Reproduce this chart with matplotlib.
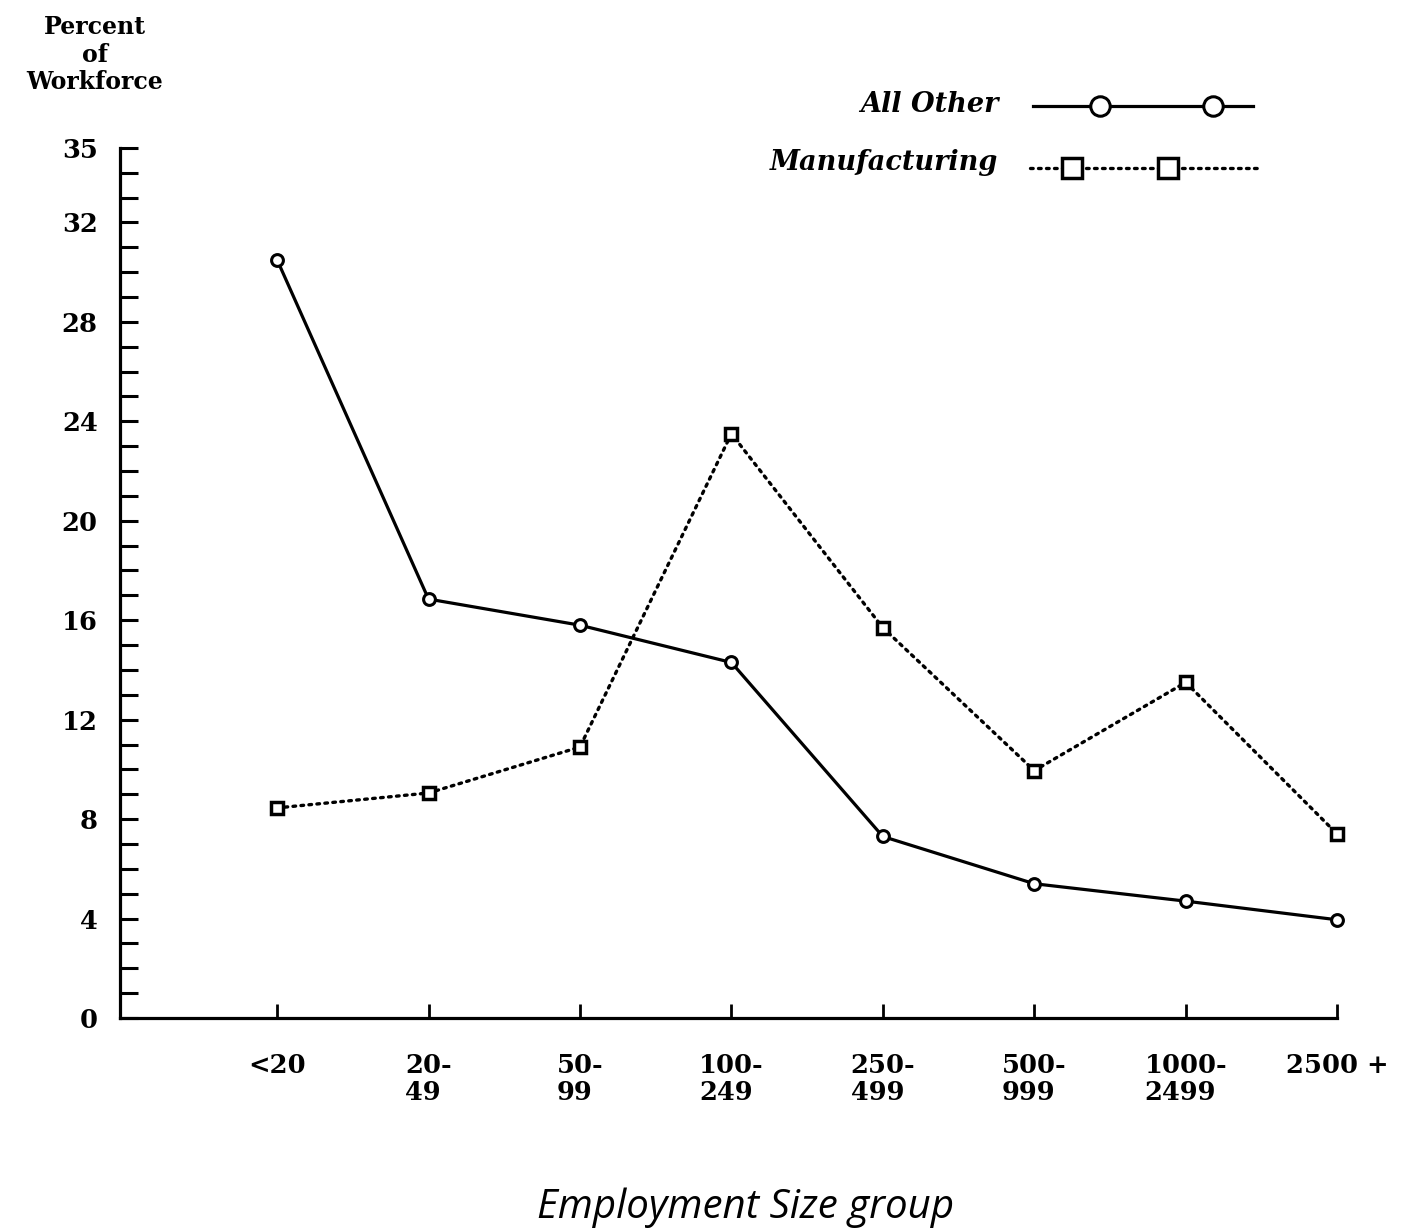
import numpy as np
import matplotlib
matplotlib.use("Agg")
import matplotlib.pyplot as plt
from matplotlib.lines import Line2D

# data
size_groups = ["<20", "20-\n49", "50-\n99", "100-\n249", "250-\n499",
               "500-\n999", "1000-\n2499", "2500 +"]
all_other = [30.5, 16.85, 15.8, 14.3, 7.3, 5.4, 4.7, 3.95]
manufacturing = [8.45, 9.05, 10.9, 23.5, 15.7, 9.95, 13.5, 7.4]
y_labels = [0, 4, 8, 12, 16, 20, 24, 28, 32, 35]

serif = "DejaVu Serif"

fig = plt.figure(figsize=(14.12, 12.29), dpi=100)
ax = fig.add_axes([0.085, 0.1717, 0.862, 0.708])

x = np.arange(len(size_groups))
ax.plot(x, all_other, color="black", lw=2.3, marker="o", ms=8.5,
        mfc="white", mec="black", mew=2.2, clip_on=False, zorder=3)
ax.plot(x, manufacturing, color="black", lw=2.4, linestyle=(0, (0.8, 1.6)),
        dash_capstyle="round", marker="s", ms=8.5, mfc="white", mec="black",
        mew=2.5, clip_on=False, zorder=3)

ax.set_xlim(-1.037, 7)
ax.set_ylim(0, 35)

for s in ["top", "right"]:
    ax.spines[s].set_visible(False)
for s in ["left", "bottom"]:
    ax.spines[s].set_linewidth(2.3)

ax.set_yticks(y_labels)
ax.set_yticklabels([str(v) for v in y_labels], fontfamily=serif,
                   fontweight="bold", fontsize=18.5)
ax.set_yticks([v for v in range(36) if v not in y_labels], minor=True)
ax.tick_params(axis="y", which="both", direction="in", length=13, width=2.2,
               pad=16)

ax.set_xticks(x)
ax.set_xticklabels(size_groups, fontfamily=serif, fontweight="bold",
                   fontsize=18.5, multialignment="left", linespacing=1.12)
ax.tick_params(axis="x", direction="in", length=10, width=2, pad=25)

fig.text(0.067, 0.988, "Percent\nof\nWorkforce", ha="center", va="top",
         fontfamily=serif, fontweight="bold", fontsize=17, linespacing=1.2)

fig.text(0.528, 0.017, "Employment Size group", ha="center", va="center",
         fontfamily="Open Sans", fontstyle="italic", fontsize=29)

# legend drawn by hand to match the original layout
W, H = 1412.0, 1229.0
fig.text(998 / W, 1 - 105 / H, "All Other", ha="right", va="center",
         fontfamily=serif, fontweight="bold", fontstyle="italic", fontsize=19.5)
fig.text(998 / W, 1 - 162 / H, "Manufacturing", ha="right", va="center",
         fontfamily=serif, fontweight="bold", fontstyle="italic", fontsize=19.5)

fig.add_artist(Line2D([1033 / W, 1253 / W], [1 - 106 / H] * 2, color="black",
                      lw=2.3, transform=fig.transFigure))
fig.add_artist(Line2D([1100 / W, 1213 / W], [1 - 106 / H] * 2, lw=0,
                      marker="o", ms=14, mfc="white", mec="black", mew=2.2,
                      transform=fig.transFigure))
fig.add_artist(Line2D([1030 / W, 1260 / W], [1 - 168 / H] * 2, color="black",
                      lw=2.4, linestyle=(0, (0.8, 1.6)), dash_capstyle="round",
                      transform=fig.transFigure))
fig.add_artist(Line2D([1072 / W, 1168 / W], [1 - 168 / H] * 2, lw=0,
                      marker="s", ms=14, mfc="white", mec="black", mew=2.5,
                      transform=fig.transFigure))

fig.savefig("out.png", dpi=100, facecolor="white")
